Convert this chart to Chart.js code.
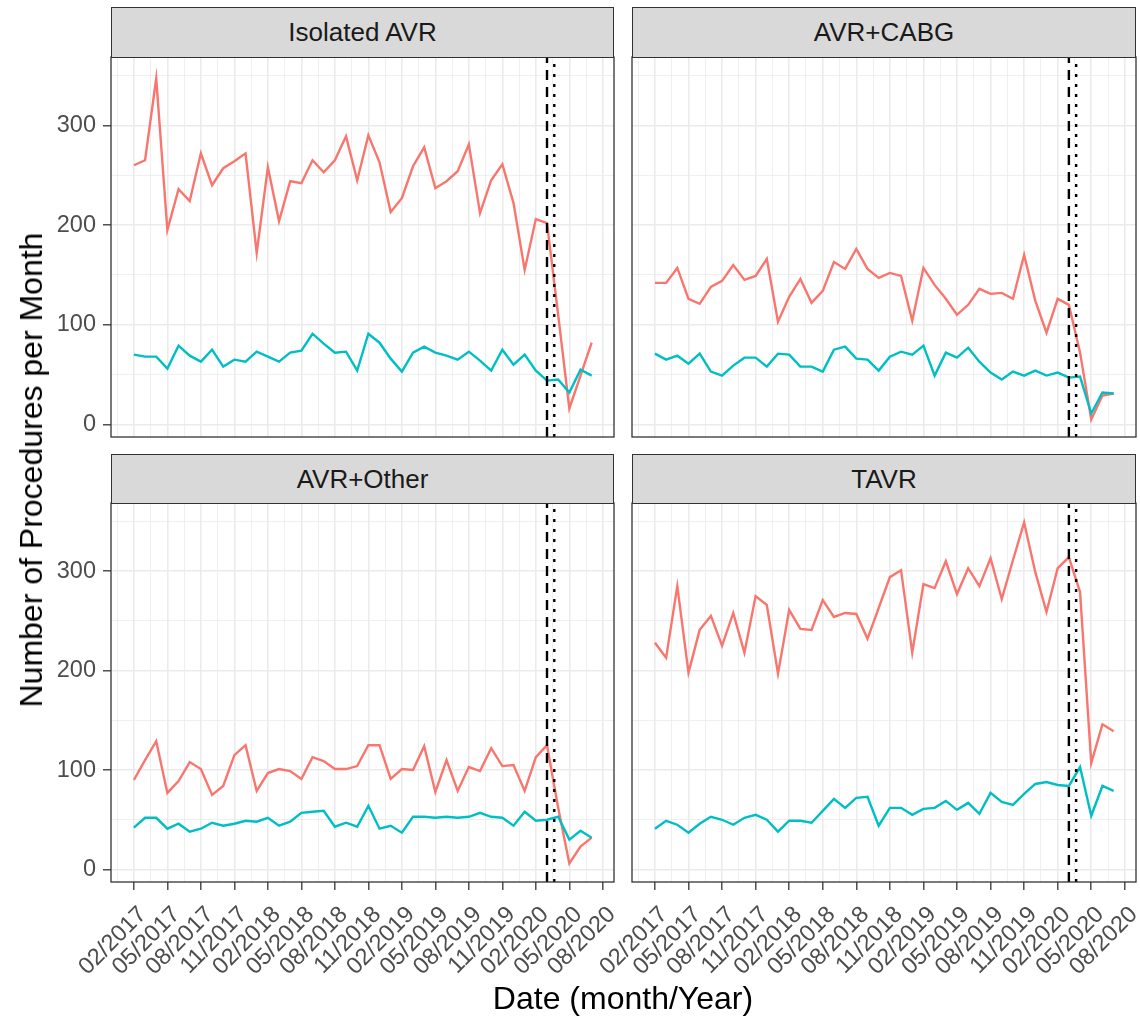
<!DOCTYPE html>
<html>
<head>
<meta charset="utf-8">
<script src="https://cdn.jsdelivr.net/npm/chart.js@4.4.1/dist/chart.umd.min.js"></script>
<style>
html,body{margin:0;padding:0;background:#fff;width:1140px;height:1020px;overflow:hidden;font-family:"Liberation Sans",Arial,sans-serif;}
canvas{position:absolute;}
.strip{position:absolute;box-sizing:border-box;background:#D9D9D9;border:1.3px solid #333333;color:#1A1A1A;font-size:26px;display:flex;align-items:center;justify-content:center;z-index:2;}
.title{position:absolute;color:#000;font-size:32px;white-space:nowrap;line-height:1;}
</style>
</head>
<body>
<div class="strip" style="left:111px;top:7px;width:503px;height:51px;">Isolated AVR</div>
<div class="strip" style="left:632px;top:7px;width:504px;height:51px;">AVR+CABG</div>
<div class="strip" style="left:111px;top:454px;width:503px;height:50px;">AVR+Other</div>
<div class="strip" style="left:632px;top:454px;width:504px;height:50px;">TAVR</div>
<canvas id="cTL" width="620" height="395" style="left:0px;top:50px;"></canvas>
<canvas id="cTR" width="580" height="395" style="left:560px;top:50px;"></canvas>
<canvas id="cBL" width="620" height="524" style="left:0px;top:496px;"></canvas>
<canvas id="cBR" width="580" height="524" style="left:560px;top:496px;"></canvas>
<div class="title" id="xTitle" style="left:623px;top:998px;transform:translate(-50%,-50%);">Date (month/Year)</div>
<div class="title" id="yTitle" style="left:31px;top:470px;transform:translate(-50%,-50%) rotate(-90deg);">Number of Procedures per Month</div>
<script>
// Months (one point per month, 02/2017 .. 07/2020)
const months = ['02/2017','03/2017','04/2017','05/2017','06/2017','07/2017','08/2017','09/2017','10/2017','11/2017','12/2017',
  '01/2018','02/2018','03/2018','04/2018','05/2018','06/2018','07/2018','08/2018','09/2018','10/2018','11/2018','12/2018',
  '01/2019','02/2019','03/2019','04/2019','05/2019','06/2019','07/2019','08/2019','09/2019','10/2019','11/2019','12/2019',
  '01/2020','02/2020','03/2020','04/2020','05/2020','06/2020','07/2020'];
// Axis tick labels (every 3 months)
const xTickLabels = ['02/2017','05/2017','08/2017','11/2017','02/2018','05/2018','08/2018','11/2018',
  '02/2019','05/2019','08/2019','11/2019','02/2020','05/2020','08/2020'];
const yTickLabels = ['0','100','200','300'];
// Reference vertical lines (month index): dashed and dotted
const refDashed = 37.0;
const refDotted = 37.65;

// Isolated AVR
const isoRed  = [260,265,347,195,236,224,272,240,257,264,272,172,258,204,244,242,265,253,265,289,245,290,263,213,227,259,278,237,244,254,281,212,245,261,222,155,206,202,110,16,49,82];
const isoTeal = [70,68,68,56,79,69,63,75,58,65,63,73,68,63,72,74,91,81,72,73,54,91,82,66,53,72,78,72,69,65,73,64,54,75,60,70,54,44,45,32,55,49];
// AVR+CABG
const cabgRed  = [142,142,157,126,121,138,144,160,145,149,166,103,128,146,122,134,163,156,176,156,147,152,149,104,157,140,126,110,120,136,131,132,126,170,124,92,126,120,72,5,29,31];
const cabgTeal = [71,65,69,61,71,53,49,59,67,67,58,71,70,58,58,53,75,78,66,65,54,68,73,70,79,49,72,67,77,63,52,45,53,49,54,49,52,47,48,11,32,31];
// AVR+Other
const othRed  = [90,110,129,77,89,108,101,75,84,115,125,79,97,101,99,91,113,109,101,101,104,125,125,91,101,100,124,78,110,79,103,99,122,104,105,79,113,125,62,6,23,32];
const othTeal = [42,52,52,41,46,38,41,47,44,46,49,48,52,44,48,57,58,59,43,47,43,64,41,44,37,53,53,52,53,52,53,57,53,52,44,58,49,50,53,30,39,32];
// TAVR
const tavrRed  = [228,213,285,198,241,255,225,258,218,275,266,197,261,242,241,271,254,258,257,232,263,294,301,218,287,283,310,277,303,285,313,272,311,349,299,259,303,314,279,107,146,139];
const tavrTeal = [41,49,45,37,46,53,50,45,52,55,50,38,49,49,47,59,71,62,72,73,44,62,62,55,61,62,69,60,67,56,77,68,65,76,86,88,85,84,103,54,84,79];

const RED = '#F8766D', TEAL = '#00BFC4';
const Y_MIN = -12.6, Y_MAX = 368.6;
const X_MIN = -2.05, X_MAX = 43.0;
const FONT = '"Liberation Sans", Arial, sans-serif';
const TICK_FONT = 23.5;

const xTickValues = [-1.5];
xTickLabels.forEach((l, k) => { xTickValues.push(k * 3); if (k < xTickLabels.length - 1) xTickValues.push(k * 3 + 1.5); });
const yTickValues = [];
yTickLabels.forEach((l) => { const v = Number(l); yTickValues.push(v); yTickValues.push(v + 50); });

const borderPlugin = {
  id: 'panelBorder',
  afterDraw(chart) {
    const {ctx, chartArea: a} = chart;
    ctx.save();
    ctx.strokeStyle = '#333333';
    ctx.lineWidth = 1.3;
    ctx.strokeRect(a.left, a.top, a.right - a.left, a.bottom - a.top);
    ctx.restore();
  }
};

function pts(vals) { return vals.map((v, i) => ({x: i, y: v})); }
function vline(x) { return [{x: x, y: Y_MIN}, {x: x, y: Y_MAX}]; }

function makePanel(id, red, teal, o) {
  const isMajorX = (v) => Math.abs(v / 3 - Math.round(v / 3)) < 1e-6;
  const isMajorY = (v) => v % 100 === 0;
  new Chart(document.getElementById(id), {
    type: 'line',
    data: {
      datasets: [
        {data: vline(refDashed), borderColor: '#000', borderWidth: 2.4, borderDash: [10, 7], pointRadius: 0, order: 0},
        {data: vline(refDotted), borderColor: '#000', borderWidth: 2.4, borderDash: [3, 7], pointRadius: 0, order: 0},
        {data: pts(teal), borderColor: TEAL, borderWidth: 2.4, pointRadius: 0, tension: 0, order: 1},
        {data: pts(red), borderColor: RED, borderWidth: 2.4, pointRadius: 0, tension: 0, order: 2}
      ]
    },
    options: {
      responsive: false,
      animation: false,
      events: [],
      layout: {padding: o.padding},
      plugins: {legend: {display: false}, tooltip: {enabled: false}, title: {display: false}},
      scales: {
        x: {
          type: 'linear', min: X_MIN, max: X_MAX,
          border: {display: false},
          afterBuildTicks(s) { s.ticks = xTickValues.map(v => ({value: v})); },
          afterFit(s) { s.height = o.xHeight; s.paddingLeft = 0; s.paddingRight = 0; },
          grid: {
            color: '#EBEBEB',
            lineWidth: (c) => isMajorX(c.tick.value) ? 1.6 : 0.8,
            drawTicks: o.showX,
            tickLength: 8,
            tickWidth: 1.3,
            tickColor: (c) => isMajorX(c.tick.value) ? '#333333' : 'rgba(0,0,0,0)'
          },
          ticks: {
            display: o.showX,
            autoSkip: false, maxRotation: 45, minRotation: 45,
            padding: 11,
            labelOffset: 9,
            color: '#4D4D4D',
            font: {family: FONT, size: TICK_FONT},
            callback: (v) => isMajorX(v) ? xTickLabels[Math.round(v / 3)] : ''
          }
        },
        y: {
          type: 'linear', min: Y_MIN, max: Y_MAX,
          border: {display: false},
          afterBuildTicks(s) { s.ticks = yTickValues.map(v => ({value: v})); },
          afterFit(s) { s.width = o.yWidth; s.paddingTop = 0; s.paddingBottom = 0; },
          grid: {
            color: '#EBEBEB',
            lineWidth: (c) => isMajorY(c.tick.value) ? 1.6 : 0.8,
            drawTicks: o.showY,
            tickLength: 8,
            tickWidth: 1.3,
            tickColor: (c) => isMajorY(c.tick.value) ? '#333333' : 'rgba(0,0,0,0)'
          },
          ticks: {
            display: o.showY,
            padding: 7,
            color: '#4D4D4D',
            font: {family: FONT, size: TICK_FONT},
            callback: (v) => isMajorY(v) ? yTickLabels[v / 100] : ''
          }
        }
      }
    },
    plugins: [borderPlugin]
  });
}

makePanel('cTL', isoRed, isoTeal, {padding: {top: 7, right: 6, bottom: 8, left: 0}, xHeight: 0, yWidth: 111, showX: false, showY: true});
makePanel('cTR', cabgRed, cabgTeal, {padding: {top: 7, right: 4, bottom: 8, left: 0}, xHeight: 0, yWidth: 72, showX: false, showY: false});
makePanel('cBL', othRed, othTeal, {padding: {top: 7, right: 6, bottom: 0, left: 0}, xHeight: 138, yWidth: 111, showX: true, showY: true});
makePanel('cBR', tavrRed, tavrTeal, {padding: {top: 7, right: 4, bottom: 0, left: 0}, xHeight: 138, yWidth: 72, showX: true, showY: false});
</script>
</body>
</html>
